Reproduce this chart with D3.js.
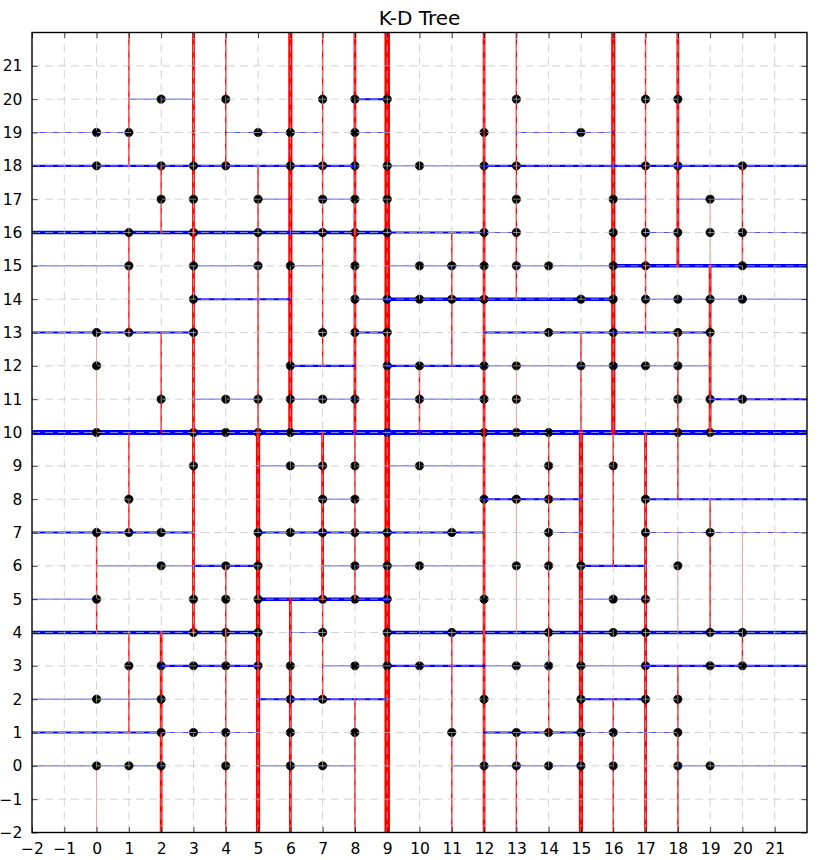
<!DOCTYPE html>
<html><head><meta charset="utf-8">
<script src="https://cdn.jsdelivr.net/npm/d3@7/dist/d3.min.js"></script>
<style>body{margin:0;background:#fff}svg{display:block}</style>
</head><body>
<svg id="chart" width="820" height="860"></svg>
<script>
// ---- data ----
const chartTitle = "K-D Tree";
const tickValues = [-2,-1,0,1,2,3,4,5,6,7,8,9,10,11,12,13,14,15,16,17,18,19,20,21];
const axisDomain = [-2, 22];
// points, row by row (y value and the x values on that row)
const rowY = [20,19,18,17,16,15,14,13,12,11,10,9,8,7,6,5,4,3,2,1,0];
const rowX = [
  [2,4,7,8,9,13,17,18],
  [0,1,5,6,8,12,15],
  [0,2,3,4,6,7,8,9,10,12,13,17,18,20],
  [2,3,5,7,8,9,13,16,19],
  [1,3,5,7,8,9,12,13,16,17,18,19,20],
  [1,3,5,6,8,10,11,12,13,14,16,17,20],
  [3,8,9,10,11,12,15,16,17,18,19,20],
  [0,1,3,7,8,9,14,16,18,19],
  [0,6,9,10,12,13,15,16,17,18],
  [2,4,5,6,7,8,10,12,13,18,19,20],
  [0,3,4,5,6,9,12,13,14,18,19],
  [3,6,7,8,10,14,16],
  [1,7,8,12,13,14,17],
  [0,1,2,5,6,7,8,9,11,14,17,19],
  [2,4,5,8,9,10,13,14,15,18],
  [0,3,4,5,7,8,9,12,16,17],
  [3,4,5,7,9,11,14,16,17,19,20],
  [1,2,3,4,5,6,8,9,10,13,14,15,17,19,20],
  [0,2,6,7,12,15,17,18],
  [2,3,4,6,8,11,13,14,15,16,18],
  [0,1,2,4,6,7,12,13,14,15,16,18,19]
];
// split value seen in the picture for the upper tree levels (path: L = lower side, R = upper side)
const splitPath = ["", "L", "R", "LL", "LR", "RL", "RR",
  "LLL", "LLR", "LRL", "LRR", "RLL", "RLR", "RRL", "RRR",
  "LLLL", "LLLR", "LLRL", "LLRR", "LRLL", "LRLR", "LRRL", "LRRR",
  "RLLL", "RLLR", "RLRL", "RLRR", "RRLL", "RRLR", "RRRL", "RRRR",
  "LLLLL", "LLLLR", "LLLRL", "LLLRR", "LLRLL", "LLRLR", "LLRRL", "LLRRR",
  "LRLLL", "LRLLR", "LRLRL", "LRLRR", "LRRLL", "LRRLR", "LRRRL", "LRRRR",
  "RLLLL", "RLLLR", "RLLRL", "RLLRR", "RLRLL", "RLRLR", "RLRRL", "RLRRR",
  "RRLLL", "RRLLR", "RRLRL", "RRLRR", "RRRLL", "RRRLR", "RRRRL", "RRRRR",
  "LLLLLL", "LRLLLL", "LRLRRR", "RRLRRR", "RRRRRR", "RLRRRL"];
const splitValue = [9, 10, 10, 5, 6, 15, 16,
  4, 5, 16, 16, 4, 4, 14, 15,
  2, 3, 6, 7, 3, 3, 8, 8,
  12, 12, 17, 17, 12, 12, 19, 18,
  1, 3, 7, 6, 2, 2, 7, 7,
  13, 14, 18, 18, 12, 13, 18, 20,
  3, 1, 7, 8, 2, 3, 6, 8,
  12, 13, 16, 18, 13, 11, 18, 18,
  2, 2, 4, 13, 18, 19];
// the other coordinate of the splitting point, where the picture tells it
const splitPointOther = { "RLRR": 5 };
// line width (points) per tree depth
const lineWidthPt = [4, 3.5, 3, 2.5, 2, 1.5, 1, 0.5, 0.3];
const splitColor = ["red", "blue"];

// ---- build point list ----
const pts = [];
rowY.forEach((yy, i) => rowX[i].forEach(xx => pts.push([xx, yy])));
const splitAt = new Map(splitPath.map((p, i) => [p, splitValue[i]]));

// ---- k-d tree (median split, stable sort) ----
function kdtree(list, depth, path) {
  if (!list.length) return null;
  const axis = depth % 2;
  const s = list.slice().sort((a, b) => a[axis] - b[axis]);
  let m = Math.floor(s.length / 2);
  if (splitAt.has(path)) {
    const v = splitAt.get(path);
    const w = splitPointOther[path];
    let best = -1;
    s.forEach((p, i) => {
      if (p[axis] !== v) return;
      if (w !== undefined) { if (p[1 - axis] === w) best = i; return; }
      if (best < 0 || Math.abs(i - m) < Math.abs(best - m)) best = i;
    });
    if (best >= 0) m = best;
  }
  return { loc: s[m], left: kdtree(s.slice(0, m), depth + 1, path + "L"), right: kdtree(s.slice(m + 1), depth + 1, path + "R") };
}
const tree = kdtree(pts, 0, "");

const items = [];
function walk(node, minx, maxx, miny, maxy, prev, branch, depth) {
  const c = node.loc, axis = depth % 2;
  if (axis === 0) {
    if (branch !== null && prev) { if (branch) maxy = prev[1]; else miny = prev[1]; }
    items.push({ kind: "line", x1: c[0], x2: c[0], y1: miny, y2: maxy, depth, axis });
  } else {
    if (branch !== null && prev) { if (branch) maxx = prev[0]; else minx = prev[0]; }
    items.push({ kind: "line", x1: minx, x2: maxx, y1: c[1], y2: c[1], depth, axis });
  }
  items.push({ kind: "pt", x: c[0], y: c[1] });
  if (node.left) walk(node.left, minx, maxx, miny, maxy, c, true, depth + 1);
  if (node.right) walk(node.right, minx, maxx, miny, maxy, c, false, depth + 1);
}
walk(tree, axisDomain[0], axisDomain[1], axisDomain[0], axisDomain[1], null, null, 0);

// ---- drawing ----
const PT = 100 / 72;
const L = 32, R = 807, T = 32.5, B = 832.5;
const x = d3.scaleLinear().domain(axisDomain).range([L, R]);
const y = d3.scaleLinear().domain(axisDomain).range([B, T]);
const svg = d3.select("#chart");

svg.append("defs").append("clipPath").attr("id", "clip")
  .append("rect").attr("x", L).attr("y", T).attr("width", R - L).attr("height", B - T);

const marks = svg.append("g").attr("clip-path", "url(#clip)");
marks.selectAll(null).data(items)
  .join(enter => enter.append(d => document.createElementNS("http://www.w3.org/2000/svg", d.kind === "line" ? "line" : "circle")))
  .each(function (d) {
    const el = d3.select(this);
    if (d.kind === "line") {
      el.attr("x1", x(d.x1)).attr("x2", x(d.x2)).attr("y1", y(d.y1)).attr("y2", y(d.y2))
        .attr("stroke", splitColor[d.axis])
        .attr("stroke-width", lineWidthPt[Math.min(d.depth, lineWidthPt.length - 1)] * PT)
        .attr("stroke-linecap", "square");
    } else {
      el.attr("cx", x(d.x)).attr("cy", y(d.y)).attr("r", 4.2).attr("fill", "#000")
        .attr("stroke", "#000").attr("stroke-width", 0.6);
    }
  });

// grid (drawn above the data, like the reference)
const grid = svg.append("g").attr("clip-path", "url(#clip)")
  .attr("stroke", "#bfbfbf").attr("stroke-width", 0.5 * PT).attr("stroke-dasharray", "8,5");
grid.selectAll(".gx").data(tickValues).join("line").attr("class", "gx")
  .attr("x1", d => x(d)).attr("x2", d => x(d)).attr("y1", B).attr("y2", T);
grid.selectAll(".gy").data(tickValues).join("line").attr("class", "gy")
  .attr("y1", d => y(d)).attr("y2", d => y(d)).attr("x1", L).attr("x2", R);

// axes with inward ticks on all sides
const tl = 4 * PT;
const fmt = d => (d < 0 ? "\u2212" + Math.abs(d) : String(d));
function styleAxis(g, showLabels) {
  g.select(".domain").remove();
  g.selectAll(".tick line").attr("stroke", "#000").attr("stroke-width", 0.5 * PT);
  g.selectAll(".tick text").attr("font-family", "DejaVu Sans, sans-serif").attr("font-size", "15.5px").attr("fill", "#000");
  if (!showLabels) g.selectAll(".tick text").remove();
}
svg.append("g").attr("transform", `translate(0,${B})`)
  .call(d3.axisBottom(x).tickValues(tickValues).tickFormat(fmt).tickSizeInner(-tl).tickSizeOuter(0).tickPadding(tl + 5))
  .call(g => styleAxis(g, true));
svg.append("g").attr("transform", `translate(0,${T})`)
  .call(d3.axisTop(x).tickValues(tickValues).tickSizeInner(-tl).tickSizeOuter(0))
  .call(g => styleAxis(g, false));
svg.append("g").attr("transform", `translate(${L},0)`)
  .call(d3.axisLeft(y).tickValues(tickValues).tickFormat(fmt).tickSizeInner(-tl).tickSizeOuter(0).tickPadding(tl + 4))
  .call(g => styleAxis(g, true));
svg.append("g").attr("transform", `translate(${R},0)`)
  .call(d3.axisRight(y).tickValues(tickValues).tickSizeInner(-tl).tickSizeOuter(0))
  .call(g => styleAxis(g, false));

// frame
svg.append("rect").attr("x", L).attr("y", T).attr("width", R - L).attr("height", B - T)
  .attr("fill", "none").attr("stroke", "#000").attr("stroke-width", PT);

// title
svg.append("text").attr("x", (L + R) / 2).attr("y", 25).attr("text-anchor", "middle")
  .attr("font-family", "DejaVu Sans, sans-serif").attr("font-size", "20px").attr("fill", "#000")
  .text(chartTitle);
</script>
</body></html>
